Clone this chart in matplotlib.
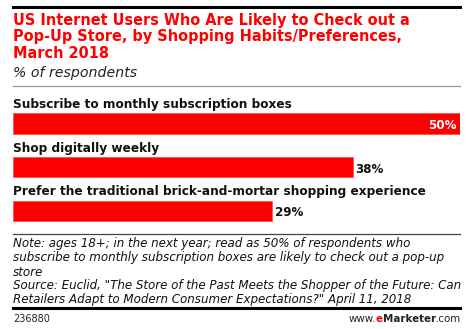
import matplotlib
matplotlib.use("Agg")
import matplotlib.pyplot as plt
from matplotlib.lines import Line2D
from matplotlib.offsetbox import TextArea, HPacker, AnchoredOffsetbox

categories = [
    "Subscribe to monthly subscription boxes",
    "Shop digitally weekly",
    "Prefer the traditional brick-and-mortar shopping experience",
]
values = [50, 38, 29]
value_labels = ["50%", "38%", "29%"]

W, H = 477, 329
fig = plt.figure(figsize=(W / 100, H / 100), dpi=100)
fig.patch.set_facecolor("white")

def fx(px):
    return px / W

def fy(py):
    return 1 - py / H

RED = "#FF0000"

# top thick line
fig.add_artist(Line2D([fx(13), fx(460)], [fy(6.5), fy(6.5)], color="black", lw=2.2))

title_lines = [
    "US Internet Users Who Are Likely to Check out a",
    "Pop-Up Store, by Shopping Habits/Preferences,",
    "March 2018",
]
for i, t in enumerate(title_lines):
    fig.text(fx(13), fy(21 + 16 * i), t, color=RED, fontsize=10.45, fontweight="bold",
             va="center", ha="left", family="DejaVu Sans")
fig.text(fx(13), fy(73), "% of respondents", color="#222222", fontsize=10.2, style="italic",
         va="center", ha="left")
fig.add_artist(Line2D([fx(13), fx(460)], [fy(86), fy(86)], color="#999999", lw=0.9))

# bars axes
top_px, bot_px = 86, 232
ax = fig.add_axes([fx(13), fy(bot_px), fx(460) - fx(13), (bot_px - top_px) / H])
unit = 43.6
c0 = 123.5
ax.set_ylim((bot_px - c0) / unit, -(c0 - top_px) / unit)
ax.set_xlim(0, 50)
ax.axis("off")
ypos = list(range(len(categories)))
ax.barh(ypos, values, height=0.46, color=RED, edgecolor="#FF5050", linewidth=0.6)
for y, cat, v, lab in zip(ypos, categories, values, value_labels):
    ax.text(0, y - 0.43, cat, fontsize=8.72, fontweight="bold", color="#111111",
            va="center", ha="left")
    if v == max(values):
        ax.text(v - 0.4, y + 0.05, lab, fontsize=8.6, fontweight="bold", color="white",
                va="center", ha="right")
    else:
        ax.text(v + 0.3, y + 0.05, lab, fontsize=8.6, fontweight="bold", color="#111111",
                va="center", ha="left")

fig.add_artist(Line2D([fx(13), fx(460)], [fy(234), fy(234)], color="#444444", lw=0.9))

notes = [
    "Note: ages 18+; in the next year; read as 50% of respondents who",
    "subscribe to monthly subscription boxes are likely to check out a pop-up",
    "store",
    "Source: Euclid, \"The Store of the Past Meets the Shopper of the Future: Can",
    "Retailers Adapt to Modern Consumer Expectations?\" April 11, 2018",
]
for i, t in enumerate(notes):
    fig.text(fx(13), fy(244 + 14 * i), t, fontsize=8.55, style="italic", color="#111111",
             va="center", ha="left")

fig.add_artist(Line2D([fx(13), fx(460)], [fy(308), fy(308)], color="black", lw=2.2))
fig.text(fx(13), fy(319), "236880", fontsize=7.0, color="#222222", va="center", ha="left")

# footer url with coloured "e"
parts = [("www.", "#222222", "normal"), ("e", RED, "bold"), ("Marketer", "#222222", "bold"), (".com", "#222222", "normal")]
boxes = [TextArea(s, textprops=dict(color=c, fontweight=w, fontsize=7.4)) for s, c, w in parts]
pack = HPacker(children=boxes, align="baseline", pad=0, sep=0)
ab = AnchoredOffsetbox(loc="center right", child=pack, pad=0, frameon=False,
                       bbox_to_anchor=(fx(461), fy(319)), bbox_transform=fig.transFigure,
                       borderpad=0)
fig.add_artist(ab)

fig.savefig("out.png", dpi=100)
